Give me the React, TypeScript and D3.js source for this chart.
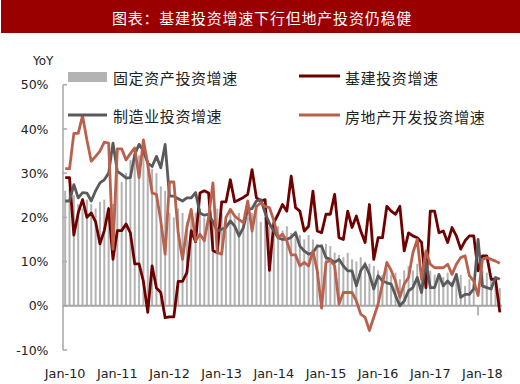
import React from "react";
import * as d3 from "d3";

const MONTH_NAMES = ["Jan","Feb","Mar","Apr","May","Jun","Jul","Aug","Sep","Oct","Nov","Dec"];
const months: string[] = d3.range(101).map((i) => `${MONTH_NAMES[i % 12]}-${10 + Math.floor(i / 12)}`);
const tickLabels = ["Jan-10","Jan-11","Jan-12","Jan-13","Jan-14","Jan-15","Jan-16","Jan-17","Jan-18"];
const yTicks = [-10, 0, 10, 20, 30, 40, 50];

// 固定资产投资增速 (bars)
const fai = [
  26, 26.5, 25, 23, 22, 24, 23, 22, 23.5, 24, 22, 23,
  31, 28, 30, 33, 35, 34, 36, 33, 31, 30, 27, 26,
  21, 20, 22, 21, 19, 20, 21, 22, 20, 21, 19, 22,
  21, 20, 22, 20, 21, 19, 20, 21, 22, 19, 20, 18,
  17.5, 18, 17, 18, 16.5, 17, 16, 15, 16, 15, 14, 14,
  14, 13.5, 12, 11.5, 11, 12, 10.5, 10, 11, 10, 9.5, 9,
  8, 7, 8.5, 7, 7.5, 6, 8, 9, 8, 9.5, 7, 6,
  8, 7, 7, 6.5, 7.5, 5.5, 6, 7, 4.5, 6, 5, -2.2,
  8, 7.5, 6, 5, 4,
];

// 基建投资增速
const infra = [
  29, 29, 16, 21, 24, 20, 21, 19, 14, 17,
  22, 10.5, 17, 17, 18.5, 16.5, 9.5, 9.5, 5.5, -1.5,
  9, 4, 3, -2.7, -2.5, -2.5, 5.5, 5.5, 7.5, 17,
  14.5, 25.5, 26, 25.5, 12.5, 12, 23.5, 23.5, 28.5, 23.5,
  24, 24.5, 25.2, 30.8, 24.4, 23.7, 24, 8, 18.8, 20.7,
  22.9, 21.4, 29.3, 22.2, 21.4, 16.9, 18, 25.9, 16.9, 16.5,
  20.7, 20.7, 25.2, 15.4, 15, 21.4, 17.7, 20.3, 16.9, 14.3,
  22.9, 10.5, 15.4, 15.4, 22.5, 21.4, 20.7, 22.5, 12.4, 16.5,
  15.8, 15.4, 14.3, 4.1, 21.4, 21.4, 16.5, 16.9, 14.3, 17.7,
  15.8, 12.8, 14.7, 15.8, 15.8, 7.9, 11.3, 11.3, 6, 6, -1.5,
];

// 制造业投资增速
const mfg = [
  23.7, 23.7, 27.4, 24.4, 25.6, 25.5, 23.7, 26, 27.8, 28.5,
  30, 36.8, 30.4, 29.7, 28.9, 29, 34.2, 36.5, 35, 32.3,
  31.5, 33.8, 31.2, 36.5, 24.8, 24.8, 24.2, 23.7, 24.4, 24.4,
  25.6, 21, 20.5, 20.7, 19, 16.9, 17.3, 17.7, 19.2, 18,
  15.8, 17.7, 21.8, 22, 23.7, 24, 21, 18.6, 16.9, 15.4,
  15, 15, 15.5, 16.5, 13.5, 12.4, 11.7, 12, 13.5, 13.5,
  10.9, 10.5, 9.8, 10.5, 9, 7.9, 7.9, 4.5, 7.9, 9.4,
  7.1, 3.8, 6.8, 5.6, 5.2, 4.9, 2.3, 0, 1.1, 3.4,
  4.1, 6.4, 3, 10.1, 4.1, 4.1, 7.1, 4.5, 5.6, 4.5,
  7.1, 1.9, 2.6, 2.6, 3.8, 15, 4.5, 4.1, 3.8, 6.4, 6,
];

// 房地产开发投资增速
const realEstate = [
  31, 31, 39, 39, 43, 37.5, 32.7, 33.8, 35, 37,
  36.8, 12.8, 35.5, 35.5, 33, 34.4, 35.7, 29, 37.5, 32,
  25.5, 25.2, 19.2, 11.7, 28, 28, 16.5, 10.5, 17.7, 21.8,
  14.7, 16.2, 14.7, 20, 27.8, 12, 11.7, 20, 21.8, 20.3,
  19.5, 18.8, 23.7, 16.9, 22.5, 23.3, 22.5, 22.2, 19.3, 15.4,
  16.2, 14.7, 11.5, 11.5, 9, 9.8, 9, 12.4, 7.9, -0.5,
  9.8, 10.3, 9, 0.4, 3, 3, 3, 1.1, -1.9, -2.6,
  -5.6, -2.6, 0.4, 5, 9.8, 8, 5.6, 1.9, 4.9, 6.4,
  12, 15, 6, 12.4, 9.4, 8.6, 8.6, 8.6, 9.4, 7.1,
  9.4, 10.9, 11.3, 6.8, 5.6, 2.3, 10.5, 10.9, 10.5, 10.1, 9.6,
];

const seriesLines = [
  { name: "基建投资增速", values: infra, color: "#6E0000" },
  { name: "制造业投资增速", values: mfg, color: "#5A5A5A" },
  { name: "房地产开发投资增速", values: realEstate, color: "#B9614C" },
];

const CJK = "'Noto Sans CJK SC', sans-serif";
const NUM = "'DejaVu Sans', sans-serif";

export default function App() {
  const W = 520, H = 384;
  const x = d3.scalePoint<string>().domain(months).range([63, 502]).padding(0.5);
  const y = d3.scaleLinear().domain([-10, 50]).range([350, 84.7]);
  const barW = 2;
  const line = d3
    .line<number>()
    .x((_, i) => x(months[i]) as number)
    .y((d) => y(d));

  return (
    <svg width={W} height={H} style={{ position: "absolute", left: 0, top: 0, background: "#fff" }}>
      {/* title bar */}
      <rect x={1} y={0} width={519} height={33} fill="#9A0000" />
      <text x={262} y={17} fill="#fff" fontSize={15} fontFamily={CJK} textAnchor="middle"
        dominantBaseline="central" letterSpacing={0.8}>
        图表：基建投资增速下行但地产投资仍稳健
      </text>

      {/* YoY */}
      <text x={33} y={65} fontSize={12} fontFamily={NUM} fill="#222">YoY</text>

      {/* y axis */}
      <line x1={63} x2={63} y1={y(50)} y2={y(-10)} stroke="#A6A6A6" strokeWidth={1.5} />
      {yTicks.map((t) => (
        <g key={t}>
          <line x1={63} x2={67} y1={y(t)} y2={y(t)} stroke="#A6A6A6" strokeWidth={1.5} />
          <text x={48.5} y={y(t) + 4.6} textAnchor="end" fontSize={12.5} fontFamily={NUM} fill="#222">
            {t}%
          </text>
        </g>
      ))}

      {/* bars */}
      {fai.map((v, i) => (
        <rect key={i} x={(x(months[i]) as number) - barW / 2} width={barW}
          y={Math.min(y(v), y(0))} height={Math.abs(y(v) - y(0))} fill="#B3B3B3" />
      ))}

      {/* zero line */}
      <line x1={63} x2={502} y1={y(0)} y2={y(0)} stroke="#A6A6A6" strokeWidth={2} />

      {/* lines */}
      {seriesLines.map((s) => (
        <path key={s.name} d={line(s.values) || ""} fill="none" stroke={s.color} strokeWidth={2.8}
          strokeLinejoin="round" />
      ))}

      {/* x labels */}
      {tickLabels.map((t) => (
        <text key={t} x={x(t) as number} y={378} textAnchor="middle" fontSize={12.8} fontFamily={NUM} fill="#222">
          {t}
        </text>
      ))}

      {/* legend */}
      <rect x={68} y={72} width={39} height={10} fill="#B3B3B3" />
      <text x={113} y={77.5} fontSize={15} fontFamily={CJK} dominantBaseline="central" letterSpacing={0.6} fill="#222">
        固定资产投资增速
      </text>
      <line x1={68} x2={107} y1={115} y2={115} stroke="#5A5A5A" strokeWidth={3.2} />
      <text x={113} y={115.5} fontSize={15} fontFamily={CJK} dominantBaseline="central" letterSpacing={0.6} fill="#222">
        制造业投资增速
      </text>
      <line x1={299} x2={340} y1={76} y2={76} stroke="#6E0000" strokeWidth={3.2} />
      <text x={345} y={77} fontSize={15} fontFamily={CJK} dominantBaseline="central" letterSpacing={0.6} fill="#222">
        基建投资增速
      </text>
      <line x1={299} x2={340} y1={115} y2={115} stroke="#B9614C" strokeWidth={3.2} />
      <text x={345} y={116} fontSize={15} fontFamily={CJK} dominantBaseline="central" letterSpacing={0.6} fill="#222">
        房地产开发投资增速
      </text>
    </svg>
  );
}
